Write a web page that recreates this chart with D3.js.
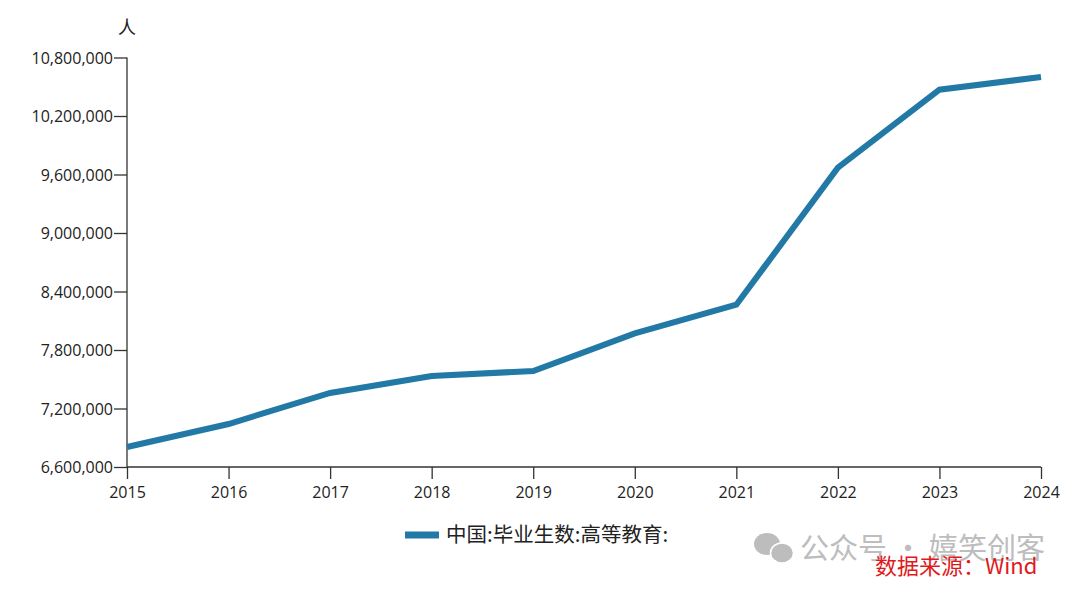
<!DOCTYPE html>
<html><head><meta charset="utf-8">
<script src="https://cdn.jsdelivr.net/npm/d3@7"></script>
<style>body{margin:0;background:#fff}svg{display:block}text{font-family:"Open Sans","Noto Sans CJK SC",sans-serif}.cjk{font-family:"Noto Sans CJK SC","Noto Sans",sans-serif}</style>
</head><body>
<svg id="c" width="1080" height="595"></svg>
<script>
const years = ["2015","2016","2017","2018","2019","2020","2021","2022","2023","2024"];
const graduates = [6805000,7041000,7359000,7533000,7585000,7970000,8264000,9670000,10470000,10600000];
const yTicks = [6600000,7200000,7800000,8400000,9000000,9600000,10200000,10800000];
const seriesName = "中国:毕业生数:高等教育:";
const unitLabel = "人";
const sourceText = "数据来源：Wind";
const watermark = "公众号 · 嬉笑创客";

const svg = d3.select("#c");
const x = d3.scalePoint().domain(years).range([127,1041]);
const y = d3.scaleLinear().domain([6600000,10800000]).range([467,57.5]);
const color = "#2279a5";

const ya = svg.append("g").attr("transform","translate(127,0)")
  .call(d3.axisLeft(y).tickValues(yTicks).tickSize(13).tickPadding(1).tickFormat(d3.format(",")));
const xa = svg.append("g").attr("transform","translate(0,467)")
  .call(d3.axisBottom(x).tickSize(12).tickPadding(8));
[ya,xa].forEach(a=>{a.selectAll("path,line").attr("stroke","#333").attr("stroke-width",1.3);
  a.selectAll("text").attr("font-size",16).attr("fill","#222");});
ya.selectAll("text").attr("dy","0.35em");
ya.select(".domain").attr("d","M0,57.5V467");
xa.select(".domain").attr("d","M127,0H1041");

svg.append("text").attr("class","cjk").attr("x",127).attr("y",34).attr("text-anchor","middle").attr("font-size",18).attr("fill","#222").text(unitLabel);

svg.append("path").datum(graduates).attr("fill","none").attr("stroke",color).attr("stroke-width",6)
  .attr("stroke-linejoin","miter")
  .attr("d",d3.line().x((d,i)=>x(years[i])).y(d=>y(d)));

// legend
svg.append("line").attr("x1",405).attr("x2",439).attr("y1",535).attr("y2",535).attr("stroke",color).attr("stroke-width",7);
svg.append("text").attr("class","cjk").attr("x",446).attr("y",542).attr("font-size",20.5).attr("fill","#222").text(seriesName);

// watermark
const wm = svg.append("g").attr("fill","#bdbdbd");
wm.append("ellipse").attr("cx",767).attr("cy",544).attr("rx",13).attr("ry",11);
wm.append("ellipse").attr("cx",782).attr("cy",553).attr("rx",11.5).attr("ry",10).attr("stroke","#fff").attr("stroke-width",1.5);
svg.append("text").attr("class","cjk").attr("x",800).attr("y",559).attr("font-size",29).attr("fill","#bdbdbd").text(watermark);
svg.append("text").attr("class","cjk").attr("x",875).attr("y",574).attr("font-size",22).attr("fill","#e0191d").text(sourceText);
</script>
</body></html>
